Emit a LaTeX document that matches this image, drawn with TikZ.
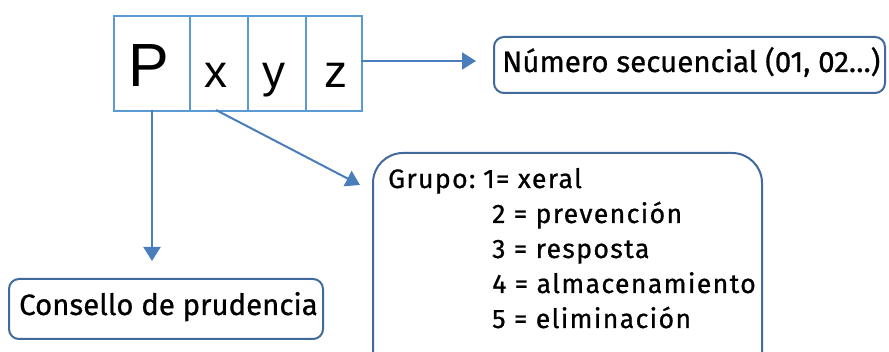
\documentclass[tikz,border=0pt]{standalone}
\usepackage{fontspec}
\setmainfont{Fira Sans}[FakeBold=0.8]
\newfontfamily\grpfont{Fira Sans}[LetterSpace=5,FakeBold=0.8]
\newfontfamily\cellfont{Liberation Sans}
\usetikzlibrary{arrows.meta}
\definecolor{cellblue}{RGB}{91,155,213}
\definecolor{arrowblue}{RGB}{74,126,187}
\definecolor{boxblue}{RGB}{65,105,155}
\tikzset{
  cell/.style={draw=cellblue, line width=2pt, minimum height=95pt, inner sep=0pt, anchor=north west, font=\cellfont},
  rbox/.style={draw=boxblue, line width=2pt, rounded corners=10pt, inner sep=0pt, anchor=north west},
  conn/.style={draw=arrowblue, line width=2pt, -{Triangle[length=14pt,width=17pt]}},
  lbl/.style={anchor=base west, inner sep=0pt, font=\grpfont\fontsize{26.7}{28}\selectfont}
}
\begin{document}
\begin{tikzpicture}[x=1pt,y=-1pt]
\useasboundingbox (0,0) rectangle (889,352);
% table
\node[cell, minimum width=76pt] (cP) at (113,15) {};
\node[cell, minimum width=58pt] (cx) at (189,15) {};
\node[cell, minimum width=58pt] (cy) at (247,15) {};
\node[cell, minimum width=56pt] (cz) at (305,15) {};
\node[anchor=base, inner sep=0pt, font=\cellfont\fontsize{61}{61}\selectfont] (tP) at (149,87) {P};
\node[anchor=base, inner sep=0pt, font=\cellfont\fontsize{46}{46}\selectfont] (tx) at (216,88) {x};
\node[anchor=base, inner sep=0pt, font=\cellfont\fontsize{46}{46}\selectfont] (ty) at (274,88) {y};
\node[anchor=base, inner sep=0pt, font=\cellfont\fontsize{46}{46}\selectfont] (tz) at (336,88) {z};
% boxes
\node[rbox, minimum width=391pt, minimum height=56pt] (num) at (493,36) {};
\node[anchor=base west, inner sep=0pt, font=\fontsize{29.5}{30}\selectfont] (numt) at (502,72) {Número secuencial (01, 02…)};
\node[rbox, minimum width=314pt, minimum height=60pt] (cons) at (8,278) {};
\node[anchor=base west, inner sep=0pt, font=\fontsize{29.4}{30}\selectfont] (const) at (19,315) {Consello de prudencia};
\begin{scope}
\clip (0,0) rectangle (889,352);
\draw[draw=boxblue, line width=2pt, rounded corners=30pt] (373,380) -- (373,153) -- (762,153) -- (762,380);
\end{scope}
\node[lbl] (g0) at (388,188) {Grupo:};
\node[lbl] (g1) at (483,188) {1= xeral};
\node[lbl] (g2) at (492,223) {2 = prevención};
\node[lbl] (g3) at (492,258) {3 = resposta};
\node[lbl] (g4) at (492,293) {4 = almacenamiento};
\node[lbl] (g5) at (492,328) {5 = eliminación};
% connectors
\coordinate (numtip) at (476,61);
\coordinate (constip) at (152,261);
\coordinate (grptip) at (360,185);
\coordinate (zout) at (361,61);
\coordinate (pout) at (152,110);
\coordinate (xout) at (216,110);
\draw[conn] (zout) -- (numtip);
\draw[conn] (pout) -- (constip);
\draw[conn] (xout) -- (grptip);
\end{tikzpicture}
\end{document}
